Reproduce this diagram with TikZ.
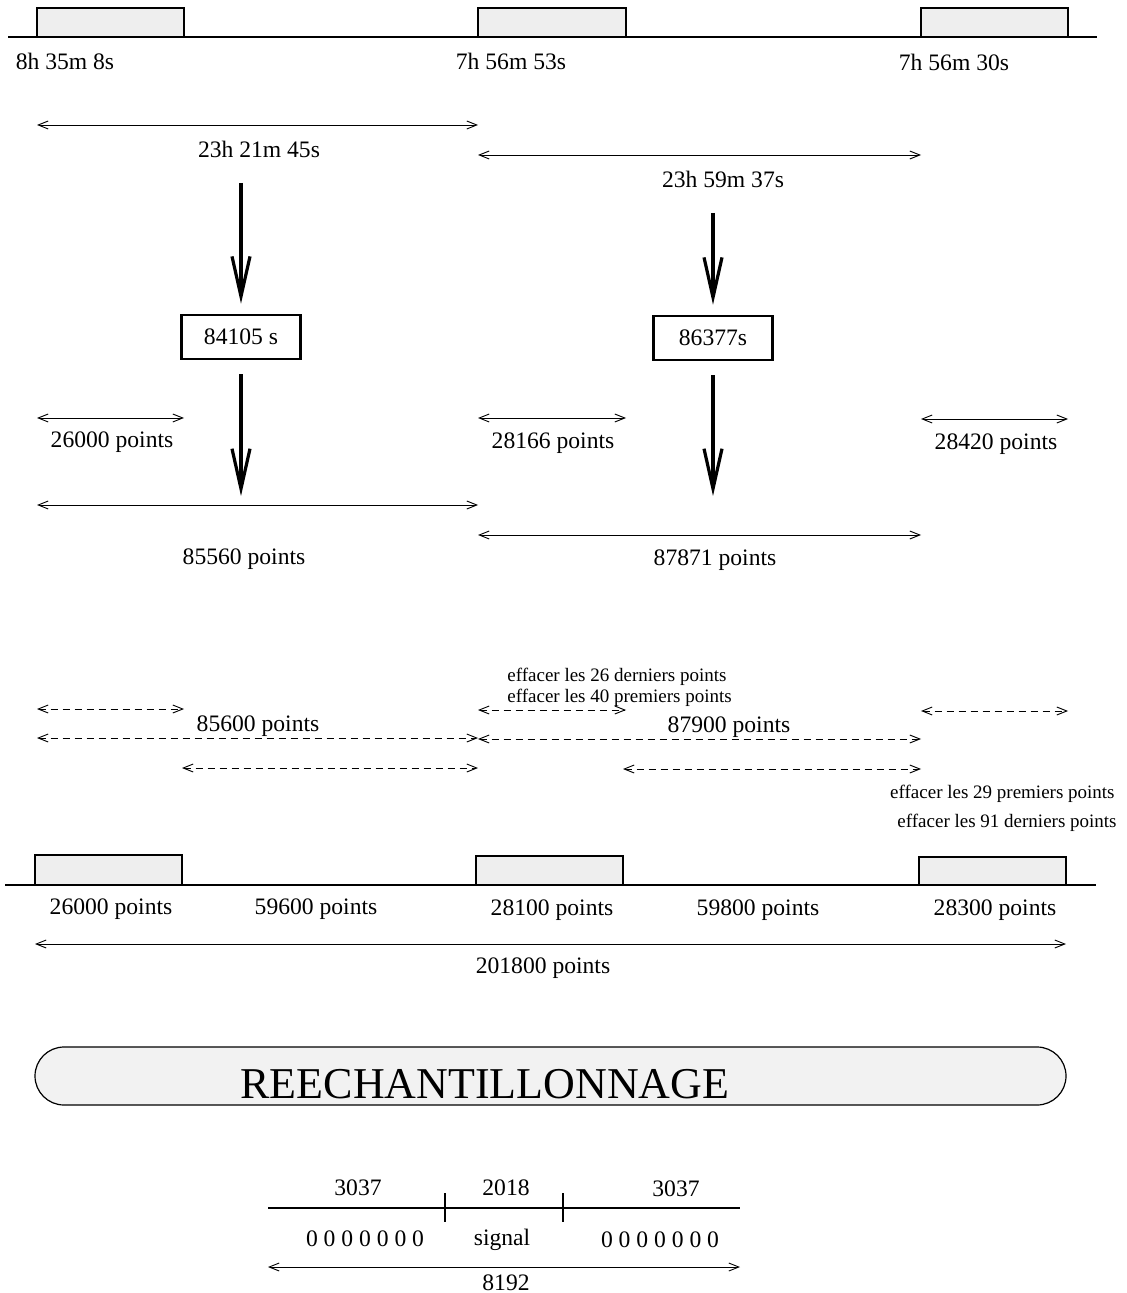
\documentclass[tikz,border=0pt]{standalone}
\usepackage{fontspec}
\setmainfont{Liberation Serif}
\usetikzlibrary{arrows.meta}

\tikzset{
  lbl/.style={font=\fontsize{11.8}{14}\selectfont, inner sep=1pt, yshift=-1pt},
  note/.style={font=\fontsize{9.5}{11}\selectfont, inner sep=1pt, yshift=-0.5pt},
  dim/.style={{Straight Barb[length=5pt,width=4pt]}-{Straight Barb[length=5pt,width=4pt]}, line width=0.45pt},
  ddim/.style={dim, dash pattern=on 3.5pt off 2.5pt},
  bigarrow/.style={-{Straight Barb[length=20pt,width=9pt]}, line width=1.6pt},
  slot/.style={draw, fill=gray!13, line width=0.6pt},
  valbox/.style={draw, line width=1.3pt, minimum width=59.5pt, minimum height=22pt,
    inner sep=1pt, font=\fontsize{11.8}{14}\selectfont}
}

\begin{document}
\begin{tikzpicture}[x=0.5pt,y=-0.5pt]
  \useasboundingbox (0,0) rectangle (1126,1293);
  \coordinate (A) at (37,0);
  \coordinate (B) at (184,0);
  \coordinate (C) at (478,0);
  \coordinate (D) at (626,0);
  \coordinate (E) at (921,0);
  \coordinate (F) at (1068,0);

  \draw[slot] (37,8) rectangle (184,37);
  \draw[slot] (478,8) rectangle (626,37);
  \draw[slot] (921,8) rectangle (1068,37);
  \draw[line width=0.7pt] (8,37) -- (1097,37);
  \node[lbl] (t1) at (65,59) {8h 35m 8s};
  \node[lbl] (t2) at (511,59) {7h 56m 53s};
  \node[lbl] (t3) at (954,60) {7h 56m 30s};

  \draw[dim] (A |- 0,125) -- (C |- 0,125);
  \node[lbl] (d1) at (259,147) {23h 21m 45s};
  \draw[dim] (C |- 0,155) -- (E |- 0,155);
  \node[lbl] (d2) at (723,177) {23h 59m 37s};

  \node[valbox] (v1) at (241,337) {84105 s};
  \node[valbox] (v2) at (713,338) {86377s};
  \coordinate (v1in) at (241,183);
  \coordinate (v1out) at (241,496);
  \coordinate (v2in) at (713,213);
  \coordinate (v2out) at (713,496);
  \draw[bigarrow, shorten >=5pt] (v1in) -- (v1.north);
  \draw[bigarrow, shorten <=7pt] (v1.south) -- (v1out);
  \draw[bigarrow, shorten >=5pt] (v2in) -- (v2.north);
  \draw[bigarrow, shorten <=7pt] (v2.south) -- (v2out);

  \draw[dim] (A |- 0,418) -- (B |- 0,418);
  \node[lbl] (p1) at (112,440) {26000 points};
  \draw[dim] (C |- 0,418) -- (D |- 0,418);
  \node[lbl] (p2) at (553,441) {28166 points};
  \draw[dim] (E |- 0,419) -- (F |- 0,419);
  \node[lbl] (p3) at (996,442) {28420 points};

  \draw[dim] (A |- 0,505) -- (C |- 0,505);
  \node[lbl] (s1) at (244,557) {85560 points};
  \draw[dim] (C |- 0,535) -- (E |- 0,535);
  \node[lbl] (s2) at (715,558) {87871 points};

  \node[note, anchor=west] (e1) at (505,676) {effacer les 26 derniers points};
  \node[note, anchor=west] (e2) at (505,697) {effacer les 40 premiers points};
  \draw[ddim] (A |- 0,709) -- (B |- 0,709);
  \draw[ddim] (C |- 0,710) -- (D |- 0,710);
  \draw[ddim] (E |- 0,711) -- (F |- 0,711);
  \draw[ddim] (A |- 0,738) -- (C |- 0,738);
  \draw[ddim] (C |- 0,739) -- (E |- 0,739);
  \draw[ddim] (182,768) -- (C |- 0,768);
  \draw[ddim] (623,769) -- (E |- 0,769);
  \node[lbl] (r1) at (258,724) {85600 points};
  \node[lbl] (r2) at (729,725) {87900 points};
  \node[note, anchor=east] (e3) at (1117,793) {effacer les 29 premiers points};
  \node[note, anchor=east] (e4) at (1119,822) {effacer les 91 derniers points};

  \draw[slot] (35,855) rectangle (182,885);
  \draw[slot] (476,856) rectangle (623,885);
  \draw[slot] (919,857) rectangle (1066,885);
  \draw[line width=0.7pt] (5,885) -- (1096,885);
  \node[lbl] (q1) at (111,907) {26000 points};
  \node[lbl] (q2) at (316,907) {59600 points};
  \node[lbl] (q3) at (552,908) {28100 points};
  \node[lbl] (q4) at (758,908) {59800 points};
  \node[lbl] (q5) at (995,908) {28300 points};
  \draw[dim] (35,944) -- (1066,944);
  \node[lbl] (tot) at (543,966) {201800 points};

  \draw[fill=gray!10, line width=0.6pt, rounded corners=14.5pt] (35,1047) rectangle (1066,1105);
  \node[font=\fontsize{22}{26}\selectfont, inner sep=0pt] (resamp) at (485,1084) {REECHANTILLONNAGE};

  \coordinate (L) at (268,1208);
  \coordinate (M1) at (445,1208);
  \coordinate (M2) at (563,1208);
  \coordinate (R) at (740,1208);
  \draw[line width=0.6pt] (L) -- (R);
  \draw[line width=0.6pt] ([yshift=7.5pt]M1) -- ([yshift=-7pt]M1);
  \draw[line width=0.6pt] ([yshift=7.5pt]M2) -- ([yshift=-7pt]M2);
  \node[lbl] (n1) at (358,1186) {3037};
  \node[lbl] (n2) at (506,1186) {2018};
  \node[lbl] (n3) at (676,1187) {3037};
  \node[lbl] (z1) at (365,1237) {0 0 0 0 0 0 0};
  \node[lbl] (sig) at (502,1238) {signal};
  \node[lbl] (z2) at (660,1238) {0 0 0 0 0 0 0};
  \draw[dim] (L |- 0,1267) -- (R |- 0,1267);
  \node[lbl] (len) at (506,1281) {8192};
\end{tikzpicture}
\end{document}
